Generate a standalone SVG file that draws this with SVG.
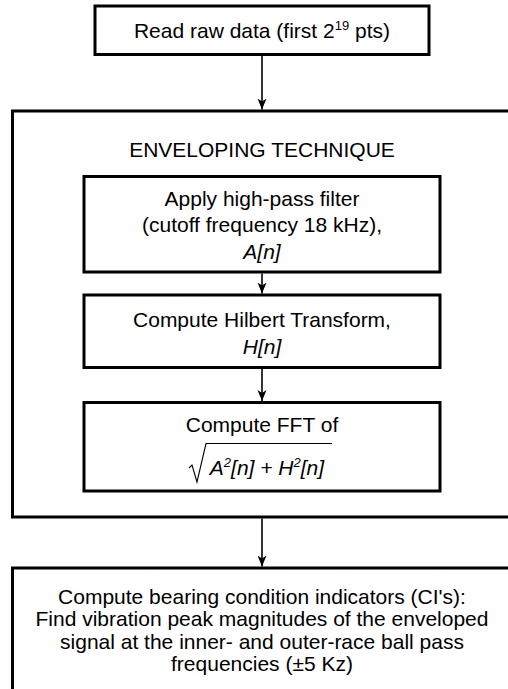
<svg xmlns="http://www.w3.org/2000/svg" width="508" height="689" viewBox="0 0 508 689">
<defs>
<style>
.box{fill:#fff;stroke:#000;stroke-width:3}
.conn{stroke:#000;stroke-width:1.6;fill:none}
.t{font-family:"Liberation Sans",Arial,sans-serif;font-size:21px;fill:#000;text-anchor:middle}
.i{font-style:italic}
.sup{font-size:13px}
</style>
<marker id="arr" viewBox="0 0 12 10" refX="11" refY="5" markerWidth="12" markerHeight="10" markerUnits="userSpaceOnUse" orient="auto">
<path d="M0,0.5 L11,5 L0,9.5 L3,5 z" fill="#000"/>
</marker>
</defs>
<rect width="508" height="689" fill="#fff"/>
<g id="outer">
<rect class="box" x="12.5" y="111" width="510" height="406"/>
<text class="t" x="262" y="157">ENVELOPING TECHNIQUE</text>
</g>
<g id="read">
<rect class="box" x="95" y="6" width="334" height="48.5"/>
<text class="t" x="262" y="37.5">Read raw data (first 2<tspan class="sup" dy="-8">19</tspan><tspan dy="8"> pts)</tspan></text>
</g>
<g id="highpass">
<rect class="box" x="84" y="176.5" width="356" height="95.5"/>
<text class="t" x="262" y="205.5">Apply high-pass filter</text>
<text class="t" x="262" y="232">(cutoff frequency 18 kHz),</text>
<text class="t i" x="262" y="258.5">A[n]</text>
</g>
<g id="hilbert">
<rect class="box" x="84" y="295" width="356" height="72.5"/>
<text class="t" x="262" y="326.5">Compute Hilbert Transform,</text>
<text class="t i" x="262" y="354">H[n]</text>
</g>
<g id="fft">
<rect class="box" x="84" y="402.5" width="356" height="88.5"/>
<text class="t" x="262" y="431.5">Compute FFT of</text>
<path d="M189,468 L192,465 L197,482 L206,443.5 L332,443.5" fill="none" stroke="#000" stroke-width="1.1"/>
<text class="t i" x="267" y="474.5">A<tspan class="sup" dy="-8">2</tspan><tspan dy="8">[n] + H</tspan><tspan class="sup" dy="-8">2</tspan><tspan dy="8">[n]</tspan></text>
</g>
<g id="indicators">
<rect class="box" x="12.5" y="568" width="510" height="140"/>
<text class="t" x="262" y="603.5">Compute bearing condition indicators (CI's):</text>
<text class="t" x="262" y="626">Find vibration peak magnitudes of the enveloped</text>
<text class="t" x="262" y="648.5">signal at the inner- and outer-race ball pass</text>
<text class="t" x="262" y="671">frequencies (±5 Kz)</text>
</g>
<g id="connectors">
<line class="conn" x1="262" y1="55.5" x2="262" y2="109.5" marker-end="url(#arr)"/>
<line class="conn" x1="262" y1="273.5" x2="262" y2="293.5" marker-end="url(#arr)"/>
<line class="conn" x1="262" y1="369" x2="262" y2="401" marker-end="url(#arr)"/>
<line class="conn" x1="262" y1="518.5" x2="262" y2="566.5" marker-end="url(#arr)"/>
</g>
</svg>
